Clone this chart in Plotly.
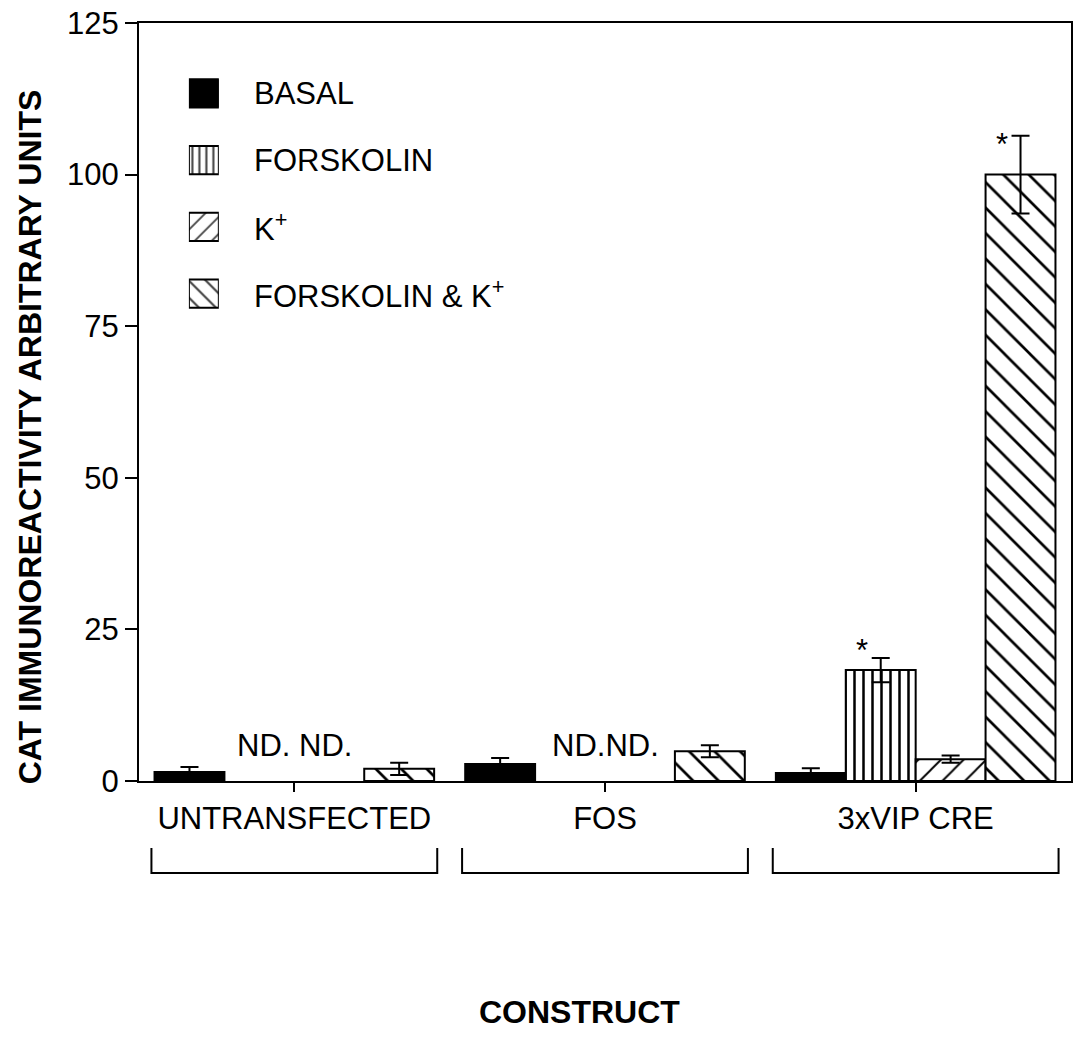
import plotly.graph_objects as go

# Constructs and treatments
constructs = ["UNTRANSFECTED", "FOS", "3xVIP CRE"]
treatments = ["BASAL", "FORSKOLIN", "K<sup>+</sup>", "FORSKOLIN & K<sup>+</sup>"]

# CAT immunoreactivity (arbitrary units); None = not detected
basal = [1.5, 2.8, 1.3]
forskolin = [None, None, 18.3]
k_plus = [None, None, 3.6]
forskolin_k = [2.0, 4.9, 100.0]

# Standard errors
basal_err = [0.8, 1.0, 0.8]
forskolin_err = [None, None, 2.0]
k_plus_err = [None, None, 0.6]
forskolin_k_err = [1.0, 1.0, 6.4]

# Not-detected labels and significance marks
nd_labels = ["ND. ND.", "ND.ND.", ""]
sig_marks = [("3xVIP CRE", "FORSKOLIN"), ("3xVIP CRE", "FORSKOLIN & K<sup>+</sup>")]

y_ticks = [0, 25, 50, 75, 100, 125]

FONT = "Liberation Sans, Arial, Helvetica, sans-serif"
TXT = 31

series = [
    (basal, basal_err, dict(color="black", pattern=dict(shape=""))),
    (forskolin, forskolin_err, dict(color="white", pattern=dict(shape="|", fgcolor="#000000", fgopacity=1, bgcolor="white", size=9, solidity=0.28))),
    (k_plus, k_plus_err, dict(color="white", pattern=dict(shape="/", fgcolor="#000000", fgopacity=1, bgcolor="white", size=16, solidity=0.12))),
    (forskolin_k, forskolin_k_err, dict(color="white", pattern=dict(shape="\\", fgcolor="#000000", fgopacity=1, bgcolor="white", size=18, solidity=0.15))),
]

fig = go.Figure()
x_idx = list(range(len(constructs)))
for name, (vals, errs, mk) in zip(treatments, series):
    fig.add_trace(go.Bar(
        x=x_idx, y=vals, name=name,
        marker=dict(line=dict(color="black", width=2), **mk),
        error_y=dict(type="data", array=errs, visible=True, color="black", thickness=2, width=9),
        showlegend=False,
    ))

# Legend key: small patterned bars on their own hidden axes
fig.add_trace(go.Bar(
    x=[1, 1, 1, 1], y=[0, 1, 2, 3], orientation="h", width=0.42, base=0,
    xaxis="x2", yaxis="y2", showlegend=False, hoverinfo="skip",
    marker=dict(
        color=["black", "white", "white", "white"],
        line=dict(color="black", width=2),
        pattern=dict(shape=["", "|", "/", "\\"], fgcolor="#000000", fgopacity=1, bgcolor="white",
                     size=[9, 7, 12, 12], solidity=[0.3, 0.3, 0.15, 0.18]),
    ),
))

n_bars = len(treatments)
group_w = 0.9
bar_w = group_w / n_bars

def bar_center(ci, ti):
    return ci - group_w / 2 + bar_w * (ti + 0.5)

annotations = []
# legend labels
legend_y = [0, 1, 2, 3]
for i, name in enumerate(treatments):
    annotations.append(dict(
        x=0.121, xref="paper", y=legend_y[i], yref="y2", text=name,
        xanchor="left", yanchor="middle", showarrow=False,
        font=dict(family=FONT, size=TXT, color="black"),
    ))

# ND labels
for ci, lab in enumerate(nd_labels):
    if lab:
        annotations.append(dict(
            x=ci, y=5.9, xref="x", yref="y", text=lab, showarrow=False,
            xanchor="center", yanchor="middle",
            font=dict(family=FONT, size=TXT, color="black"),
        ))

# significance asterisks
sig_y = {"FORSKOLIN": 21.5, "FORSKOLIN & K<sup>+</sup>": 105.0}
for cname, tname in sig_marks:
    ci = constructs.index(cname)
    ti = treatments.index(tname)
    annotations.append(dict(
        x=bar_center(ci, ti) - 0.06, y=sig_y[tname], xref="x", yref="y", text="*",
        showarrow=False, xanchor="center", yanchor="middle",
        font=dict(family=FONT, size=TXT, color="black"),
    ))

# axis titles
annotations.append(dict(
    x=-0.1167, xref="paper", xanchor="center", y=(781 - 437) / 758, yref="paper",
    yanchor="middle", text="<b>CAT IMMUNOREACTIVITY ARBITRARY UNITS</b>",
    textangle=-90, showarrow=False, font=dict(family=FONT, size=32, color="black"),
))
annotations.append(dict(
    x=(580 - 139) / 934, xref="paper", xanchor="center", y=(781 - 1012) / 758, yref="paper",
    yanchor="middle", text="<b>CONSTRUCT</b>", showarrow=False,
    font=dict(family=FONT, size=32, color="black"),
))

# group brackets beneath the category labels
shapes = []
y_top, y_bot = (781 - 848) / 758, (781 - 873) / 758
for ci in x_idx:
    x0, x1 = ci - 0.46, ci + 0.46
    shapes.append(dict(
        type="path", xref="x", yref="paper",
        path=f"M {x0} {y_top} L {x0} {y_bot} L {x1} {y_bot} L {x1} {y_top}",
        line=dict(color="black", width=2),
    ))

fig.update_layout(
    width=1074, height=1037,
    margin=dict(l=139, r=1, t=23, b=256),
    paper_bgcolor="white", plot_bgcolor="white",
    barmode="group", bargap=0.1, bargroupgap=0,
    font=dict(family=FONT, size=TXT, color="black"),
    annotations=annotations, shapes=shapes,
    xaxis=dict(
        range=[-0.5, 2.5], tickmode="array", tickvals=x_idx, ticktext=constructs,
        showline=True, linecolor="black", linewidth=2, mirror=True,
        ticks="outside", ticklen=9, tickwidth=2, tickcolor="black",
        showgrid=False, zeroline=False, tickfont=dict(size=TXT),
    ),
    yaxis=dict(
        range=[0, 125], tickvals=y_ticks,
        showline=True, linecolor="black", linewidth=2, mirror=True,
        ticks="outside", ticklen=12, tickwidth=2, tickcolor="black",
        showgrid=False, zeroline=False, tickfont=dict(size=TXT),
    ),
    xaxis2=dict(domain=[(189 - 139) / 934, (219 - 139) / 934], range=[0, 1], anchor="y2", visible=False, fixedrange=True),
    yaxis2=dict(domain=[(781 - 327) / 758, (781 - 60) / 758], range=[3.5, -0.5], anchor="x2", visible=False, fixedrange=True),
)

fig.write_html("out.html")
